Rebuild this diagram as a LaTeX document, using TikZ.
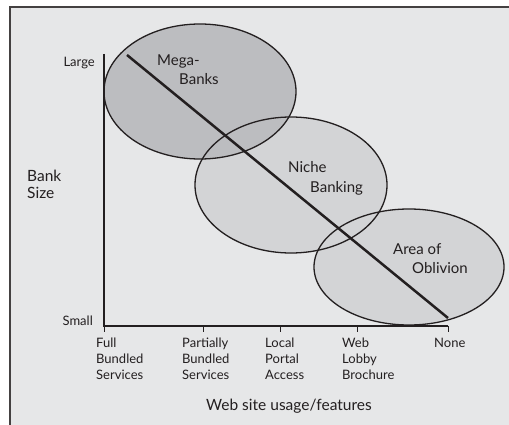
\documentclass[tikz,border=0pt]{standalone}
\usepackage{fontspec}
\setmainfont{Lato}
\usetikzlibrary{shapes.geometric}
\definecolor{bgc}{HTML}{E6E7E8}
\definecolor{darkfill}{HTML}{BCBDC0}
\definecolor{lightfill}{HTML}{D3D4D6}
\definecolor{inkc}{HTML}{231F20}
\tikzset{
  zone/.style={ellipse, inner sep=0pt},
  axisline/.style={line width=2.5pt, draw=inkc},
  rim/.style={line width=1.3pt, draw=inkc},
  bigtxt/.style={inner sep=0pt, anchor=base west, text=inkc, font=\fontsize{15}{19}\selectfont},
  ticklbl/.style={inner sep=0pt, anchor=north west, align=left, text=inkc, font=\fontsize{13}{16}\selectfont},
  sidelbl/.style={inner sep=0pt, text=inkc, font=\fontsize{13}{16}\selectfont},
  titlelbl/.style={inner sep=0pt, text=inkc, font=\fontsize{15.5}{17}\selectfont},
}
\begin{document}
\begin{tikzpicture}[x=1pt,y=-1pt]
\useasboundingbox (0,0) rectangle (509,425);
\fill[white] (0,0) rectangle (509,425);
\draw[fill=bgc, draw=inkc!85, line width=1.4pt] (10,7) rectangle (520,440);

% fills
\node[zone, fill=lightfill, minimum width=192pt, minimum height=136pt] (niche) at (291,185) {};
\node[zone, fill=lightfill, minimum width=190pt, minimum height=116pt] (obliv) at (409,267) {};
\node[zone, fill=darkfill, minimum width=192pt, minimum height=135pt] (mega) at (200,91.5) {};
% outlines
\draw[rim] (niche.center) ellipse [x radius=96, y radius=68];
\draw[rim] (obliv.center) ellipse [x radius=95, y radius=58];
\draw[rim] (mega.center) ellipse [x radius=96, y radius=67.5];

% axes
\coordinate (top) at (104,54);
\coordinate (orig) at (104,326);
\coordinate (xend) at (448,326);
\coordinate (t2) at (203,326);
\coordinate (t3) at (280,326);
\coordinate (t4) at (357,326);
\draw[axisline] (top) -- (orig) -- (xend);
\foreach \t in {orig,t2,t3,t4,xend}
  \draw[line width=1pt, draw=inkc] (\t) -- ++(0,6);

% diagonal
\coordinate (d1) at (127,55);
\coordinate (d2) at (448,318);
\draw[axisline] (d1) -- (d2);

% axis labels
\node[sidelbl, anchor=base east] (large) at (95,66.5) {Large};
\node[sidelbl, anchor=base east] (small) at (93,325) {Small};
\node[titlelbl, anchor=north west, align=left] (banksize) at (27,170) {Bank\\Size};

\node[ticklbl] (lfull) at (96,338) {Full\\Bundled\\Services};
\node[ticklbl] (lpart) at (182,338) {Partially\\Bundled\\Services};
\node[ticklbl] (llocal) at (265,338) {Local\\Portal\\Access};
\node[ticklbl] (lweb) at (342,338) {Web\\Lobby\\Brochure};
\node[ticklbl] (lnone) at (434,338) {None};

\node[titlelbl, anchor=base] (xtitle) at (289,410) {Web site usage/features};

% zone labels
\node[bigtxt] (mega1) at (157,66) {Mega-};
\node[bigtxt] (mega2) at (179,85) {Banks};
\node[bigtxt] (niche1) at (288,173) {Niche};
\node[bigtxt] (niche2) at (310,193) {Banking};
\node[bigtxt] (obliv1) at (393,254) {Area of};
\node[bigtxt] (obliv2) at (412,273) {Oblivion};
\end{tikzpicture}
\end{document}
